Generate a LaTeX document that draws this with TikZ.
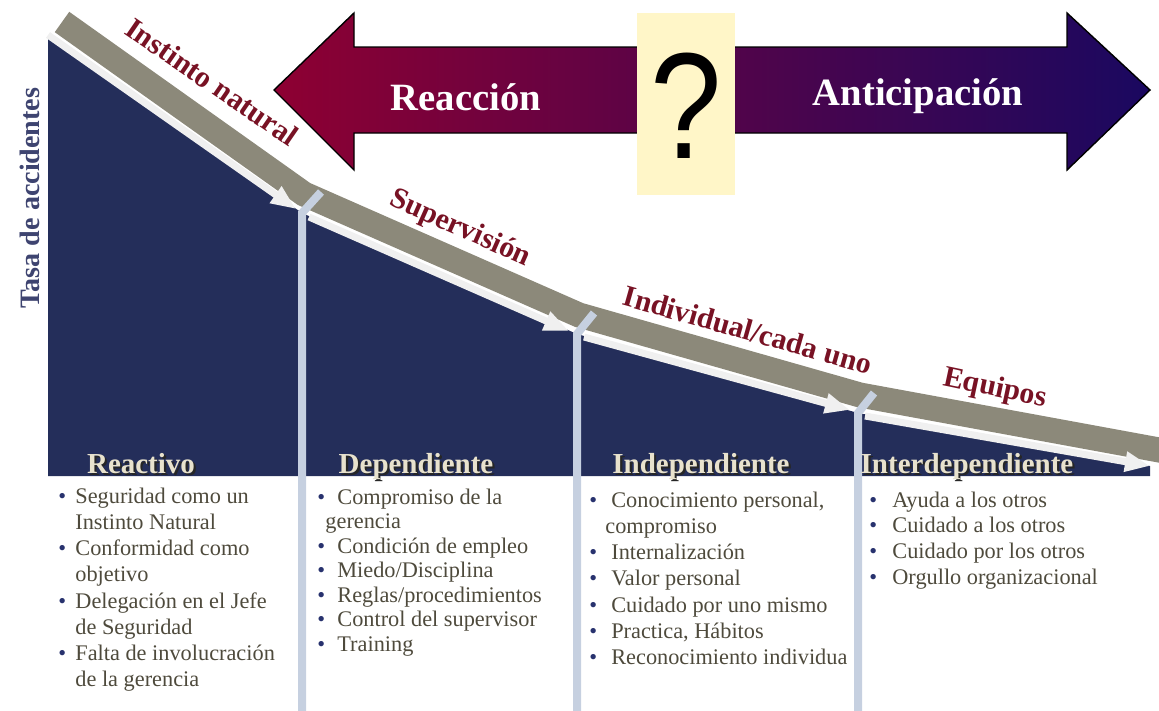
\documentclass[tikz,border=0pt]{standalone}
\usepackage{fontspec}
\setmainfont{Liberation Serif}
\newfontfamily\qfont{Liberation Sans}
\usetikzlibrary{arrows.meta}

\definecolor{navy}{RGB}{36,46,90}
\definecolor{bandgray}{RGB}{140,137,122}
\definecolor{divblue}{RGB}{198,208,224}
\definecolor{labelred}{RGB}{120,18,36}
\definecolor{headbeige}{RGB}{232,226,205}
\definecolor{bodytxt}{RGB}{78,74,60}
\definecolor{bulblue}{RGB}{40,50,110}
\definecolor{axisblue}{RGB}{62,68,112}
\definecolor{arrowred}{RGB}{142,0,50}
\definecolor{arrowmid}{RGB}{100,0,80}
\definecolor{arrowblue}{RGB}{26,8,96}
\definecolor{qyellow}{RGB}{255,246,200}

\newlength{\bulw}
\newcommand{\bul}{\makebox[\bulw][l]{\textcolor{bulblue}{\textbullet}}}
\newcommand{\shd}[1]{\makebox[0pt][l]{\hspace{1.2pt}\raisebox{-1.2pt}{\textcolor{black!85}{#1}}}#1}

\tikzset{
  stage/.style={anchor=base, text=headbeige, font=\fontsize{16.5}{18}\selectfont\bfseries, inner sep=0pt},
  steplabel/.style={text=labelred, font=\fontsize{17}{19}\selectfont\bfseries, inner sep=0pt},
  traits/.style={anchor=north west, align=left, inner sep=0pt, text=bodytxt},
  whiteflow/.style={white!94!black, line width=0.14cm, -{Triangle[length=0.5cm,width=0.38cm]}},
  divider/.style={divblue, line width=0.16cm, line join=miter},
}

\begin{document}
\begin{tikzpicture}[x=0.02cm, y=-0.02cm]
\useasboundingbox (0,0) rectangle (1159,710);

% curve points
\coordinate (w0) at (48,35);
\coordinate (w1) at (302,213);
\coordinate (w2) at (577,334);
\coordinate (w3) at (858,413);
\coordinate (w4) at (1150,466);
\coordinate (g0) at (62,22);
\coordinate (g1) at (304,194);
\coordinate (g2) at (579,315);
\coordinate (g3) at (860,395);
\coordinate (g4) at (1170,452);

% area under the curve
\fill[navy] (w0) -- (w1) -- (w2) -- (w3) -- (w4) -- (1150,476) -- (48,476) -- cycle;

% gray band
\draw[bandgray, line width=0.5cm, line join=miter] (g0) -- (g1) -- (g2) -- (g3) -- (g4);

% white arrows
\coordinate (e1) at (296,209);
\coordinate (s2) at (309,217);
\coordinate (e2) at (569,331);
\coordinate (s3) at (584,337);
\coordinate (e3) at (850,410);
\coordinate (s4) at (865,416);
\coordinate (e4) at (1150,466);
\draw[whiteflow] (w0) -- (e1);
\draw[whiteflow] (s2) -- (e2);
\draw[whiteflow] (s3) -- (e3);
\draw[whiteflow] (s4) -- (e4);

% stage lists
\setlength{\bulw}{9.7pt}
\node[traits, font=\fontsize{12.7}{14.9}\selectfont] (reactlist) at (58,484.7) {\strut\bul Seguridad como un\\
  \hspace*{\bulw}Instinto Natural\\
  \bul Conformidad como\\
  \hspace*{\bulw}objetivo\\
  \bul Delegación en el Jefe\\
  \hspace*{\bulw}de Seguridad\\
  \bul Falta de involucración\\
  \hspace*{\bulw}de la gerencia};
\setlength{\bulw}{11.4pt}
\node[traits, font=\fontsize{12.7}{13.95}\selectfont] (deplist) at (317,486.8) {\strut\bul Compromiso de la\\
  \hspace*{4.6pt}gerencia\\
  \bul Condición de empleo\\
  \bul Miedo/Disciplina\\
  \bul Reglas/procedimientos\\
  \bul Control del supervisor\\
  \bul Training};
\setlength{\bulw}{12.5pt}
\begin{scope}
  \clip (580,478) rectangle (846,705);
  \node[traits, font=\fontsize{12.7}{14.9}\selectfont] (indlist) at (589,488.7) {\strut\bul Conocimiento personal,\\
    \hspace*{9.1pt}compromiso\\
    \bul Internalización\\
    \bul Valor personal\\
    \bul Cuidado por uno mismo\\
    \bul Practica, Hábitos\\
    \bul Reconocimiento individual};
\end{scope}
\setlength{\bulw}{13.1pt}
\node[traits, font=\fontsize{12.7}{14.6}\selectfont] (interlist) at (869,489) {\strut\bul Ayuda a los otros\\
  \bul Cuidado a los otros\\
  \bul Cuidado por los otros\\
  \bul Orgullo organizacional};

% dividers
\draw[divider] (321,192) -- (w1) -- (302,712);
\draw[divider] (594,313) -- (w2) -- (577,712);
\draw[divider] (874,393) -- (w3) -- (858,712);

% stage headings
\node[stage] (reactivo) at (141,473) {\shd{Reactivo}};
\node[stage] (dependiente) at (416,473) {\shd{Dependiente}};
\node[stage] (independiente) at (701,473) {\shd{Independiente}};
\node[stage] (interdep) at (967,473) {\shd{Interdependiente}};

% band labels
\node[steplabel, rotate=-34.6] (instinto) at (212,82) {Instinto natural};
\node[steplabel, rotate=-23.9] (superv) at (460,229) {Supervisión};
\node[steplabel, rotate=-15.8] (indiv) at (748,330) {Individual/cada uno};
\node[steplabel, rotate=-12] (equipos) at (995,389) {Equipos};

% axis
\node[rotate=90, text=axisblue, font=\fontsize{16}{18}\selectfont\bfseries] (tasa) at (30,198) {Tasa de accidentes};

% double arrow
\shadedraw[left color=arrowred, middle color=arrowmid, right color=arrowblue, draw=black, line width=0.8pt, line join=miter]
  (274,90) -- (354,13) -- (354,47) -- (1067,47) -- (1067,13) -- (1150,90)
  -- (1067,170) -- (1067,133) -- (354,133) -- (354,170) -- cycle;
\fill[qyellow] (637,13) rectangle (735,195);
\node[text=white, font=\fontsize{22}{24}\selectfont\bfseries] (reac) at (466,97) {Reacción};
\node[text=white, font=\fontsize{22}{24}\selectfont\bfseries] (antic) at (918,96) {Anticipación};
\node[font=\qfont\fontsize{86}{90}\selectfont, xscale=0.85] (qmark) at (686,106) {?};
\end{tikzpicture}
\end{document}
